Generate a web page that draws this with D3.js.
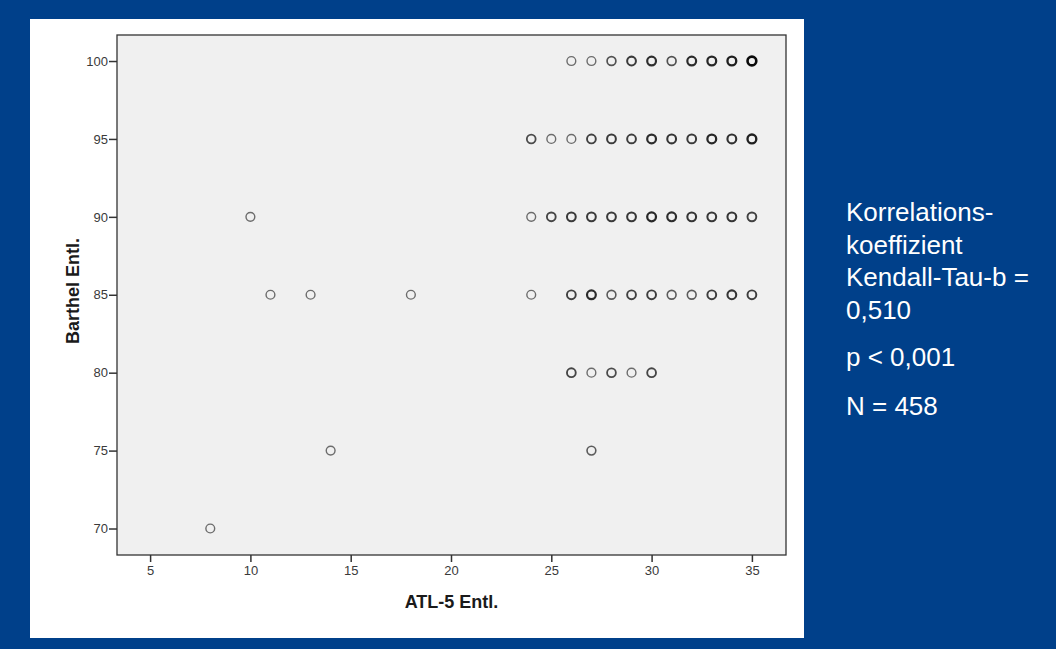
<!DOCTYPE html>
<html>
<head>
<meta charset="utf-8">
<script src="https://cdn.jsdelivr.net/npm/d3@7"></script>
<style>
  body { margin: 0; background: #00408a; }
  svg { display: block; }
</style>
</head>
<body>
<svg id="chart" width="1056" height="649"></svg>
<script>
// one entry per occupied cell: ATL-5 value, Barthel value, how many patients sit on it
const atl = [
  26, 27, 28, 29, 30, 31, 32, 33, 34, 35,
  24, 25, 26, 27, 28, 29, 30, 31, 32, 33, 34, 35,
  10, 24, 25, 26, 27, 28, 29, 30, 31, 32, 33, 34, 35,
  11, 13, 18, 24, 26, 27, 28, 29, 30, 31, 32, 33, 34, 35,
  26, 27, 28, 29, 30,
  14, 27,
  8
];
const barthel = [
  100, 100, 100, 100, 100, 100, 100, 100, 100, 100,
  95, 95, 95, 95, 95, 95, 95, 95, 95, 95, 95, 95,
  90, 90, 90, 90, 90, 90, 90, 90, 90, 90, 90, 90, 90,
  85, 85, 85, 85, 85, 85, 85, 85, 85, 85, 85, 85, 85, 85,
  80, 80, 80, 80, 80,
  75, 75,
  70
];
const counts = [
  1, 1, 3, 8, 14, 3, 15, 18, 25, 60,
  4, 1, 1, 6, 8, 7, 15, 10, 8, 18, 12, 25,
  1, 1, 5, 8, 8, 8, 9, 18, 14, 10, 9, 10, 6,
  1, 1, 1, 1, 6, 15, 2, 6, 7, 2, 2, 7, 10, 7,
  5, 1, 4, 1, 5,
  1, 2,
  1
];
const xTicks = [5, 10, 15, 20, 25, 30, 35];
const yTicks = [70, 75, 80, 85, 90, 95, 100];
const statLines = ["Korrelations-", "koeffizient", "Kendall-Tau-b =", "0,510"];
const statExtra = ["p < 0,001", "N = 458"];

const svg = d3.select("#chart");
const plot = { left: 117, top: 35, right: 786, bottom: 555 };

// white slide panel
svg.append("rect")
  .attr("x", 30).attr("y", 19)
  .attr("width", 774).attr("height", 619)
  .attr("fill", "#ffffff");

const x = d3.scaleLinear()
  .domain([3.35, 36.7])
  .range([plot.left, plot.right]);
const y = d3.scaleLinear()
  .domain([68.3, 101.67])
  .range([plot.bottom, plot.top]);

// darker / heavier ring where many points overlap
const stroke = d3.scaleLog().domain([1, 60]).range(["#6c6c6c", "#0a0a0a"]).clamp(true);
const strokeW = d3.scaleLog().domain([1, 60]).range([1.4, 2.6]).clamp(true);

svg.append("rect")
  .attr("x", plot.left).attr("y", plot.top)
  .attr("width", plot.right - plot.left)
  .attr("height", plot.bottom - plot.top)
  .attr("fill", "#f0f0f0")
  .attr("stroke", "#333")
  .attr("stroke-width", 1.3);

const xAxis = svg.append("g")
  .attr("transform", `translate(0,${plot.bottom})`)
  .call(d3.axisBottom(x).tickValues(xTicks).tickSize(7).tickPadding(4).tickSizeOuter(0));
const yAxis = svg.append("g")
  .attr("transform", `translate(${plot.left},0)`)
  .call(d3.axisLeft(y).tickValues(yTicks).tickSize(8).tickPadding(1).tickSizeOuter(0));

[xAxis, yAxis].forEach(function(g) {
  g.select(".domain").remove();
  g.selectAll(".tick line").attr("stroke", "#333").attr("stroke-width", 1.5);
  g.selectAll(".tick text")
    .attr("fill", "#3a3a3a")
    .style("font-family", "'Liberation Sans', Arial, sans-serif")
    .style("font-size", "13px");
});

const pts = atl.map(function(a, i) {
  return { a: a, b: barthel[i], n: counts[i] };
});

svg.append("g")
  .selectAll("circle")
  .data(pts)
  .join("circle")
  .attr("cx", d => x(d.a))
  .attr("cy", d => y(d.b))
  .attr("r", 4.4)
  .attr("fill", "none")
  .attr("stroke", d => stroke(d.n))
  .attr("stroke-width", d => strokeW(d.n));

// axis titles
svg.append("text")
  .attr("x", (plot.left + plot.right) / 2)
  .attr("y", 608)
  .attr("text-anchor", "middle")
  .style("font-family", "'Liberation Sans', Arial, sans-serif")
  .style("font-size", "18px")
  .style("font-weight", "bold")
  .attr("fill", "#1a1a1a")
  .text("ATL-5 Entl.");

svg.append("text")
  .attr("transform", `translate(79,${(plot.top + plot.bottom) / 2 - 4}) rotate(-90)`)
  .attr("text-anchor", "middle")
  .style("font-family", "'Liberation Sans', Arial, sans-serif")
  .style("font-size", "18px")
  .style("font-weight", "bold")
  .attr("fill", "#1a1a1a")
  .text("Barthel Entl.");

// statistics block on the blue margin
const stat = svg.append("g")
  .style("font-family", "'Liberation Sans', Arial, sans-serif")
  .style("font-size", "26px")
  .attr("fill", "#ffffff");

stat.selectAll("text.main")
  .data(statLines)
  .join("text")
  .attr("class", "main")
  .attr("x", 846)
  .attr("y", (d, i) => 221 + i * 32.5)
  .text(d => d);

stat.selectAll("text.extra")
  .data(statExtra)
  .join("text")
  .attr("class", "extra")
  .attr("x", 846)
  .attr("y", (d, i) => 366 + i * 49)
  .text(d => d);
</script>
</body>
</html>
